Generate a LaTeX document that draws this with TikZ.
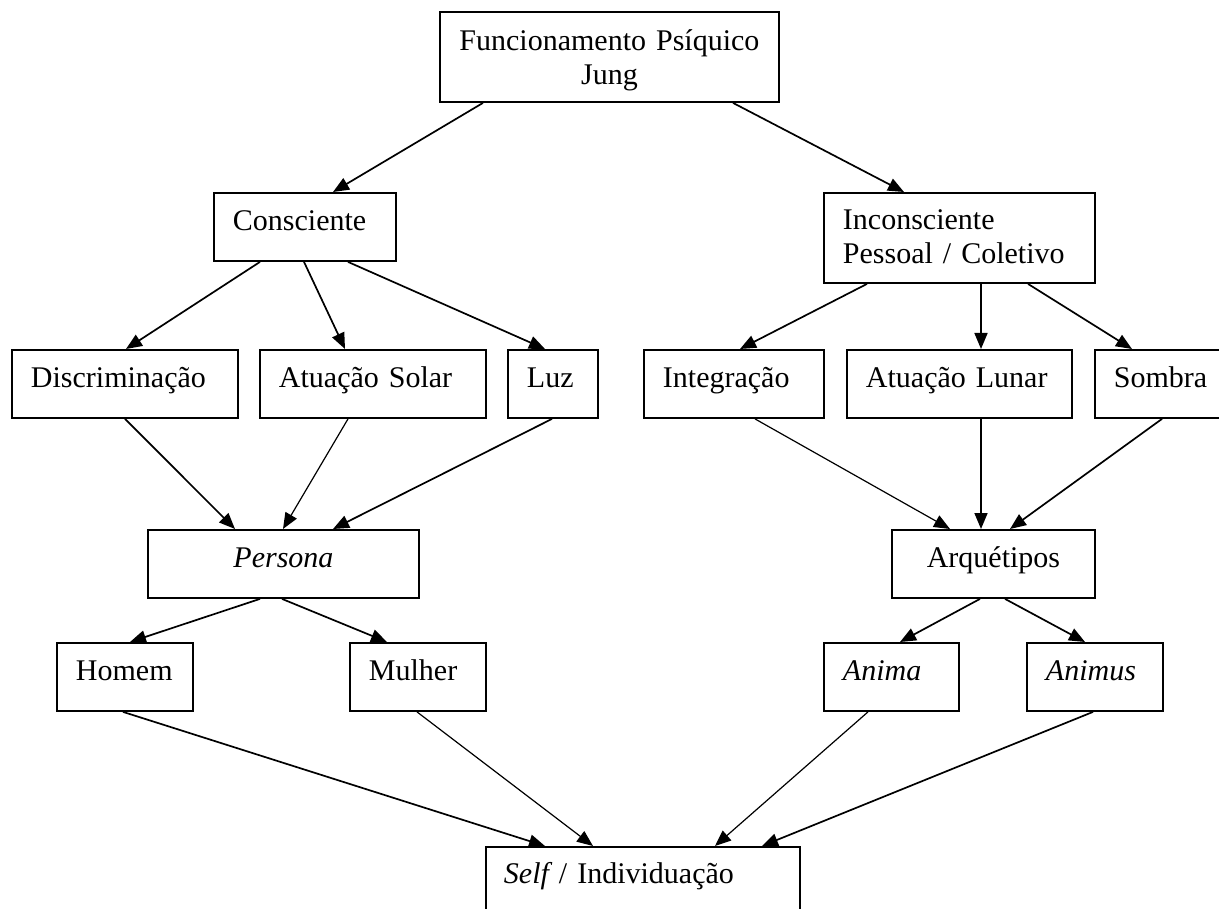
\documentclass[tikz,border=0pt]{standalone}
\usepackage{fontspec}
\setmainfont{Liberation Serif}
\usetikzlibrary{arrows.meta}
\begin{document}
\begin{tikzpicture}[x=1pt,y=-1pt,
  box/.style={draw, line width=1.9pt, anchor=north west, inner xsep=19pt, inner ysep=0pt,
    font=\fontsize{30}{34}\selectfont, align=left, text height=38pt, text depth=30pt},
  arr/.style={line width=1.7pt, -{Triangle[length=16pt,width=13pt]}},
  arrthin/.style={arr, line width=1.2pt}]
\clip (0,0) rectangle (1219,909);
% boxes
\node[box, align=center, text width=301pt, text height=39pt, text depth=51pt] (T) at (439,11) {Funcionamento Psíquico\\Jung};
\node[box, text width=144pt] (C) at (213,192) {Consciente};
\node[box, text width=233pt, text height=37pt, text depth=53pt] (I) at (823,192) {Inconsciente\\Pessoal / Coletivo};
\node[box, text width=188pt] (D) at (11,349) {Discriminação};
\node[box, text width=188pt] (AS) at (259,349) {Atuação Solar};
\node[box, text width=52pt] (L) at (507,349) {Luz};
\node[box, text width=142pt] (In) at (643,349) {Integração};
\node[box, text width=187pt] (AL) at (846,349) {Atuação Lunar};
\node[box, text width=97pt] (S) at (1094,349) {Sombra};
\node[box, align=center, text width=233pt] (P) at (147,529) {{\itshape Persona}};
\node[box, align=center, text width=165pt] (A) at (891,529) {Arquétipos};
\node[box, text width=98pt] (H) at (56,642) {Homem};
\node[box, text width=98pt] (M) at (349,642) {Mulher};
\node[box, text width=97pt] (An) at (823,642) {{\itshape Anima}};
\node[box, text width=98pt] (Am) at (1026,642) {{\itshape Animus}};
\node[box, text width=278pt, text height=37pt, text depth=53pt, inner xsep=18pt] (Sf) at (485,846) {{\itshape Self} / Individuação};
% connectors
\draw[arr] ([xshift=44pt]T.south west) -- ([xshift=120pt]C.north west);
\draw[arr] ([xshift=294pt]T.south west) -- ([xshift=81pt]I.north west);
\draw[arr] ([xshift=47pt]C.south west) -- ([xshift=115pt]D.north west);
\draw[arr] ([xshift=91pt]C.south west) -- ([xshift=86pt]AS.north west);
\draw[arr] ([xshift=135pt]C.south west) -- ([xshift=38pt]L.north west);
\draw[arr] ([xshift=44pt]I.south west) -- ([xshift=97pt]In.north west);
\draw[arr] ([xshift=158pt]I.south west) -- ([xshift=135pt]AL.north west);
\draw[arr] ([xshift=205pt]I.south west) -- ([xshift=38pt]S.north west);
\draw[arr] ([xshift=114pt]D.south west) -- ([xshift=88pt]P.north west);
\draw[arrthin] ([xshift=89pt]AS.south west) -- ([xshift=136pt]P.north west);
\draw[arr] ([xshift=45pt]L.south west) -- ([xshift=186pt]P.north west);
\draw[arrthin] ([xshift=112pt]In.south west) -- ([xshift=59pt]A.north west);
\draw[arr] ([xshift=135pt]AL.south west) -- ([xshift=90pt]A.north west);
\draw[arr] ([xshift=68pt]S.south west) -- ([xshift=119pt]A.north west);
\draw[arr] ([xshift=113pt]P.south west) -- ([xshift=74pt]H.north west);
\draw[arr] ([xshift=135pt]P.south west) -- ([xshift=38pt]M.north west);
\draw[arr] ([xshift=89pt]A.south west) -- ([xshift=77pt]An.north west);
\draw[arr] ([xshift=114pt]A.south west) -- ([xshift=59pt]Am.north west);
\draw[arr] ([xshift=67pt]H.south west) -- ([xshift=60pt]Sf.north west);
\draw[arrthin] ([xshift=68pt]M.south west) -- ([xshift=108pt]Sf.north west);
\draw[arrthin] ([xshift=45pt]An.south west) -- ([xshift=230pt]Sf.north west);
\draw[arr] ([xshift=67pt]Am.south west) -- ([xshift=277pt]Sf.north west);
\end{tikzpicture}
\end{document}
